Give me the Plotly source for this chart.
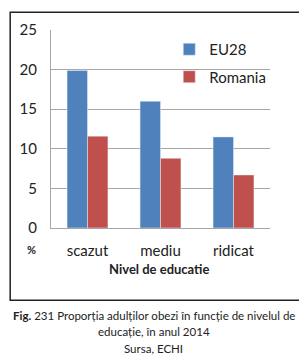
import plotly.graph_objects as go

categories = ["scazut", "mediu", "ridicat"]
eu28 = [19.9, 16.0, 11.5]
romania = [11.6, 8.8, 6.7]
y_ticks = [0, 5, 10, 15, 20, 25]

FONT = "Lato, 'Open Sans', sans-serif"

# page body has an 8px default margin: figure is drawn 8px right/down
W, H = 299, 354

fig = go.Figure()
fig.add_trace(go.Bar(name="EU28", x=categories, y=eu28, marker_color="#4F81BD", legendgroup="a"))
fig.add_trace(go.Bar(name="Romania", x=categories, y=romania, marker_color="#C0504D", legendgroup="b"))

fig.update_layout(
    width=W, height=H,
    margin=dict(l=42, r=37, t=20, b=134),
    plot_bgcolor="white", paper_bgcolor="white",
    barmode="group", bargap=0.44, bargroupgap=0,
    font=dict(family=FONT, color="#222"),
    legend=dict(x=0.54, y=(228 - 31) / 200, xanchor="left", yanchor="top",
                font=dict(size=15, color="#222"), bgcolor="rgba(0,0,0,0)",
                itemwidth=30, tracegroupgap=5),
    showlegend=True,
)
fig.update_yaxes(range=[0, 25], tickvals=y_ticks, showgrid=True, gridcolor="#A6A6A6",
                 showline=True, linecolor="#A6A6A6", ticks="", tickfont=dict(size=15),
                 ticklabelstandoff=10, zeroline=False, fixedrange=True)
fig.update_xaxes(showline=True, linecolor="#A6A6A6", ticks="", tickfont=dict(size=15),
                 ticklabelstandoff=9)

# border box
fig.add_shape(type="rect", xref="paper", yref="paper",
              x0=(9 - 50) / 220, x1=(320 - 50) / 220,
              y0=(228 - 301) / 200, y1=(228 - 10) / 200,
              line=dict(color="#222", width=1.5), fillcolor="rgba(0,0,0,0)")

fig.add_annotation(text="<b>%</b>", xref="paper", yref="paper",
                   x=(30 - 50) / 220, y=(228 - 250) / 200, showarrow=False,
                   font=dict(size=11), xanchor="center", yanchor="middle")
fig.add_annotation(text="<b>Nivel de educatie</b>", xref="paper", yref="paper",
                   x=(158 - 50) / 220, y=(228 - 269) / 200, showarrow=False,
                   font=dict(size=13), xanchor="center", yanchor="middle")
captions = ["<b>Fig.</b> 231 Proporția adulților obezi în funcție de nivelul de",
            "educație, în anul 2014", "Sursa, ECHI"]
for i, c in enumerate(captions):
    fig.add_annotation(text=c, xref="paper", yref="paper",
                       x=(153 - 50) / 220, y=(228 - (316 + 17 * i)) / 200, showarrow=False,
                       font=dict(size=11.5), xanchor="center", yanchor="middle")

fig.write_html("out.html")
